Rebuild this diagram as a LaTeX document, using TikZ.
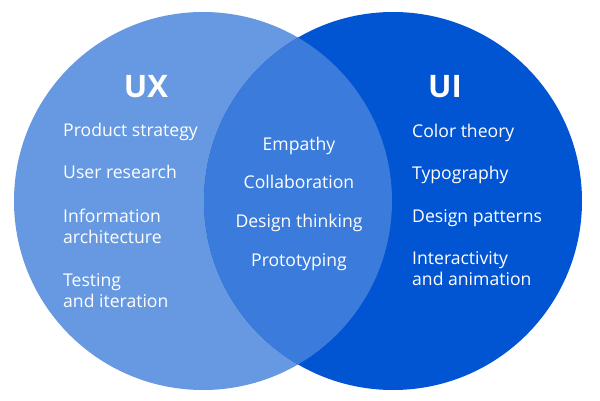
\documentclass[tikz,border=0pt]{standalone}
\usepackage{fontspec}
\setmainfont{Open Sans}
\definecolor{uxblue}{RGB}{102,153,225}
\definecolor{midblue}{RGB}{58,123,219}
\definecolor{uiblue}{RGB}{2,85,210}
\tikzset{
  title/.style={text=white, font=\fontsize{31}{31}\selectfont\bfseries, anchor=base},
  item/.style={text=white, font=\fontsize{17.6}{21}\selectfont, align=left, anchor=base west, inner sep=0pt},
  common/.style={text=white, font=\fontsize{17.6}{21}\selectfont, anchor=base, inner sep=0pt}
}
\begin{document}
\begin{tikzpicture}[x=1pt, y=1pt]
		\useasboundingbox[fill=white] (0,0) rectangle (600,400);
		% cerchi
		\fill[uxblue] (203,199) circle[radius=189];
		\fill[uiblue] (393,199) circle[radius=189];
		\begin{scope}
			\clip (203,199) circle[radius=189];
			\fill[midblue] (393,199) circle[radius=189];
		\end{scope}

		% UX
		\node[title] (ux) at (146, 302) {UX};
		\node[item] (strategy) at (63, 264) {Product strategy};
		\node[item] (research) at (63, 222) {User research};
		\node[item] (info) at (63, 157) {Information\\architecture};
		\node[item] (testing) at (63, 93) {Testing\\and iteration};

		% in comune
		\node[common] (empathy) at (299, 250) {Empathy};
		\node[common] (collab) at (299, 212) {Collaboration};
		\node[common] (thinking) at (299, 173) {Design thinking};
		\node[common] (proto) at (299, 134) {Prototyping};

		% UI
		\node[title] (ui) at (445, 303) {UI};
		\node[item] (color) at (412, 263) {Color theory};
		\node[item] (typo) at (412, 221) {Typography};
		\node[item] (patterns) at (412, 178) {Design patterns};
		\node[item] (anim) at (412, 115) {Interactivity\\and animation};
	\end{tikzpicture}
\end{document}
